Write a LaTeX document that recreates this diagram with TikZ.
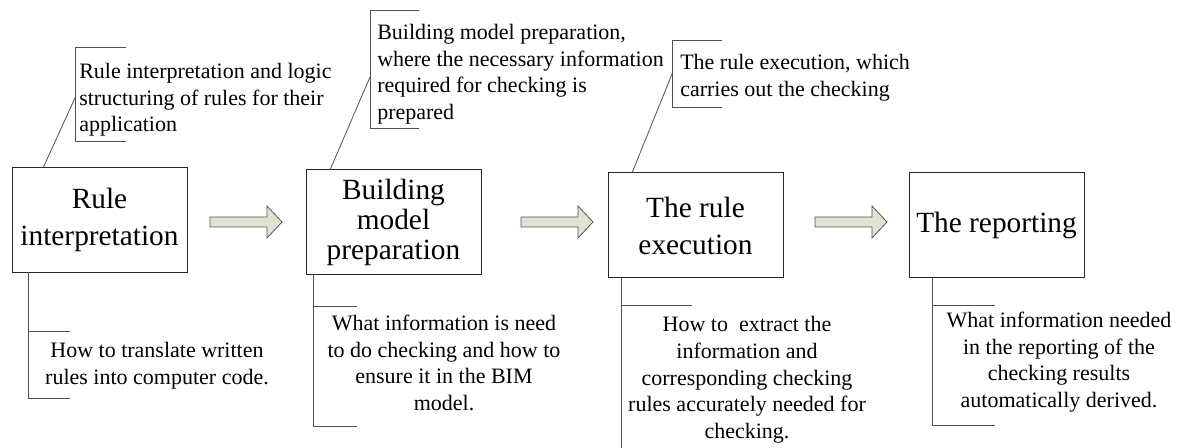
\documentclass[tikz,border=0pt]{standalone}
\usepackage{fontspec}
\setmainfont{Liberation Serif}
\usepackage{xcolor}
\usepackage{tikz}

\definecolor{arrowfill}{RGB}{223,227,210}
\definecolor{arrowline}{RGB}{85,85,85}
\definecolor{calloutline}{RGB}{80,80,80}

\tikzset{
  stage/.style={draw=black!85, line width=0.75pt, minimum width=131.25pt, minimum height=78.75pt,
    inner sep=0pt, align=center, font=\fontsize{22}{27.75}\selectfont},
  note/.style={inner sep=0pt, font=\fontsize{16.5}{20}\selectfont},
  callout/.style={draw=calloutline, line width=0.6pt},
  blockarrow/.style={draw=arrowline, fill=arrowfill, line width=0.6pt, line join=miter}
}

\begin{document}
\begin{tikzpicture}[x=0.75pt,y=0.75pt,yscale=-1,xscale=1]
\path[use as bounding box] (0,0) rectangle (1178,448);

%Shape: Rectangle
\node (interp) [stage] at (99.5,220) {Rule\\interpretation};
%Shape: Rectangle
\node (prep) [stage, font=\fontsize{22}{22.5}\selectfont] at (393.5,222.5) {Building\\model\\preparation};
%Shape: Rectangle
\node (exec) [stage] at (695.5,225.5) {The rule\\execution};
%Shape: Rectangle
\node (report) [stage] at (996.5,225.5) {The reporting};

%Right Arrows
\foreach \sx in {210,521,815}
  \draw[blockarrow] (\sx,217) -- (\sx+57,217) -- (\sx+57,206) -- (\sx+72,222)
    -- (\sx+57,238) -- (\sx+57,227) -- (\sx,227) -- cycle;

% Text Node
\node (interp-note) [note, anchor=north west, align=left] at (79,63)
  {Rule interpretation and logic\\structuring of rules for their\\application};
% Text Node
\node (prep-note) [note, anchor=north west, align=left] at (377,24)
  {Building model preparation,\\where the necessary information\\required for checking is\\prepared};
% Text Node
\node (exec-note) [note, anchor=north west, align=left] at (680,54)
  {The rule execution, which\\carries out the checking};

% Text Node
\node (interp-how) [note, align=center] at (157,366)
  {How to translate written\\rules into computer code.};
% Text Node
\node (prep-how) [note, align=center] at (444,363)
  {What information is need\\to do checking and how to\\ensure it in the BIM\\model.};
% Text Node
\node (exec-how) [note, align=center] at (747,380)
  {How to~ extract the\\information and\\corresponding checking\\rules accurately needed for\\checking.};
% Text Node
\node (report-how) [note, align=center] at (1059,362)
  {What information needed\\in the reporting of the\\checking results\\automatically derived.};

%Callout brackets above
\coordinate (interp-top) at (43,168);
\coordinate (interp-tag) at (75,98);
\draw[callout] (126,47) -- (75,47) -- (75,141) -- (126,141);
\draw[callout] (interp-top) -- (interp-tag);

\coordinate (prep-top) at (330,170);
\coordinate (prep-tag) at (370,77);
\draw[callout] (419,10) -- (370,10) -- (370,128) -- (419,128);
\draw[callout] (prep-top) -- (prep-tag);

\coordinate (exec-top) at (632,173);
\coordinate (exec-tag) at (672,74);
\draw[callout] (722,40) -- (672,40) -- (672,107) -- (722,107);
\draw[callout] (exec-top) -- (exec-tag);

%Callout brackets below
\coordinate (interp-foot) at (28,272);
\draw[callout] (interp-foot) -- (28,398) -- (70,398);
\draw[callout] (28,331) -- (70,331);

\coordinate (prep-foot) at (313,275);
\draw[callout] (prep-foot) -- (313,426) -- (357,426);
\draw[callout] (313,306) -- (357,306);

\coordinate (exec-foot) at (621,278);
\draw[callout] (exec-foot) -- (621,448);
\draw[callout] (621,305) -- (692,305);

\coordinate (report-foot) at (932,278);
\draw[callout] (report-foot) -- (932,425) -- (995,425);
\draw[callout] (932,305) -- (995,305);

\end{tikzpicture}
\end{document}
